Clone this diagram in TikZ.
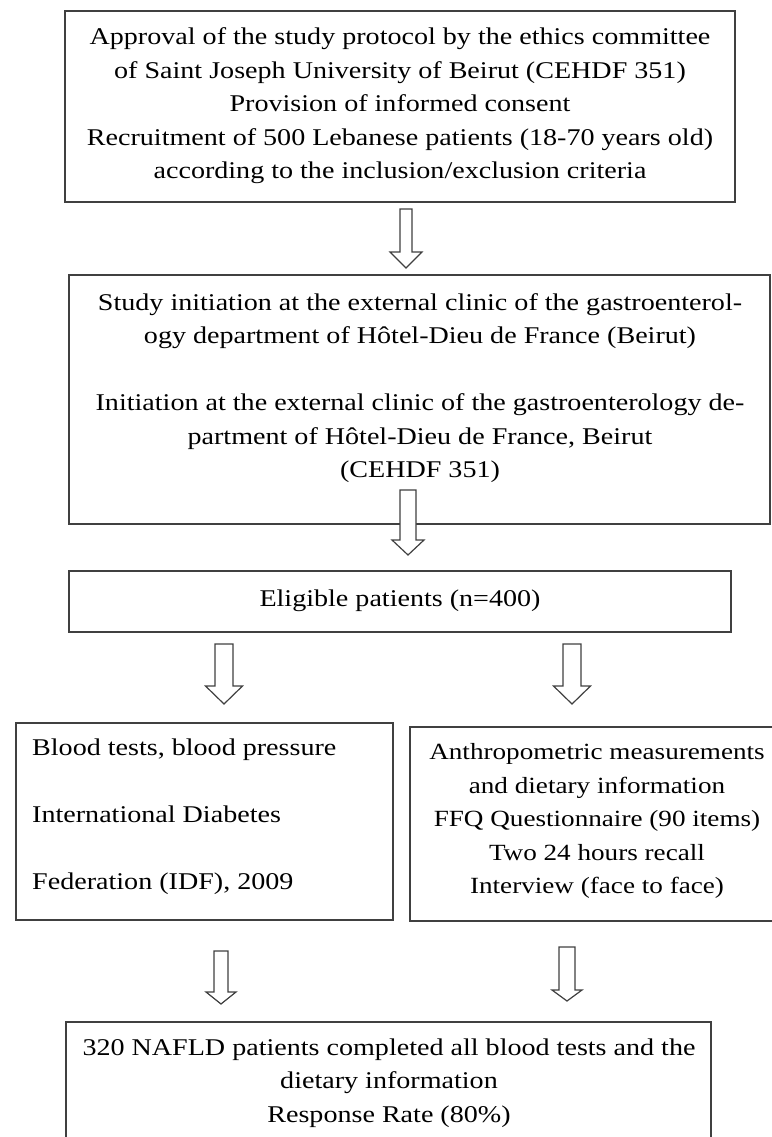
\documentclass[tikz,border=0pt]{standalone}
\usepackage{fontspec}
\setmainfont[FakeStretch=1.17]{Liberation Serif}
\begin{document}
\begin{tikzpicture}[x=1pt,y=-1pt,
  box/.style={draw=black!75,line width=1.3pt,fill=white},
  txt/.style={inner sep=0pt,font=\fontsize{24}{33.5}\selectfont,align=center},
  barrow/.style={draw=black!75,line width=1.2pt,fill=white,line join=miter}]
\useasboundingbox (0,0) rectangle (771,1137);
\newcommand\blockarrow[7]{% name, cx, top, headstart, tip, shaft half, head half
  \coordinate (#1-top) at (#2,#3);
  \coordinate (#1-tip) at (#2,#5);
  \draw[barrow] (#2-#6,#3) -- (#2+#6,#3) -- (#2+#6,#4) -- (#2+#7,#4) -- (#1-tip)
     -- (#2-#7,#4) -- (#2-#6,#4) -- cycle;}
% boxes
\draw[box] (65,11) rectangle (735,202); \node[txt] (t1) at (400,106) {Approval of the study protocol by the ethics committee\\of Saint Joseph University of Beirut (CEHDF 351)\\Provision of informed consent\\Recruitment of 500 Lebanese patients (18-70 years old)\\according to the inclusion/exclusion criteria};
\draw[box] (69,275) rectangle (770,524);
\node[txt] (t2) at (420,388) {Study initiation at the external clinic of the gastroenterol-\\ogy department of Hôtel-Dieu de France (Beirut)\\[33.5pt]Initiation at the external clinic of the gastroenterology de-\\partment of Hôtel-Dieu de France, Beirut\\(CEHDF 351)};
\draw[box] (69,571) rectangle (731,632);
\node[txt] (t3) at (400,601) {Eligible patients (n=400)};
\draw[box] (16,723) rectangle (393,920);
\node[txt,align=left,anchor=west] (t4) at (32,817) {Blood tests, blood pressure\\[33.5pt]International Diabetes\\[33.5pt]Federation (IDF), 2009};
\draw[box] (410,727) rectangle (790,921);
\node[txt,font=\fontsize{23.2}{33.5}\selectfont] (t5) at (597,821) {Anthropometric measurements\\and dietary information\\FFQ Questionnaire (90 items)\\Two 24 hours recall\\Interview (face to face)};
\draw[box] (66,1022) rectangle (711,1170);
\node[txt] (t6) at (389,1083) {320 NAFLD patients completed all blood tests and the\\dietary information\\Response Rate (80\%)};
% arrows
\blockarrow{a1}{406}{209}{252}{268}{6}{16}
\blockarrow{a2}{408}{490}{540}{555}{8}{16}
\blockarrow{a3}{224}{644}{686}{704}{9}{18.5}
\blockarrow{a4}{572}{644}{686}{704}{9}{18.5}
\blockarrow{a5}{221}{951}{992}{1004}{7}{15}
\blockarrow{a6}{567}{947}{990}{1001}{8}{15}
\end{tikzpicture}
\end{document}
